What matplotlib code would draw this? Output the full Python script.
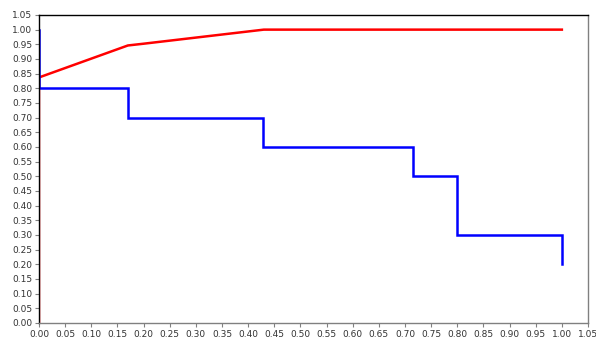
import numpy as np
import matplotlib.pyplot as plt

# red curve (cumulative) and blue step curve
red_x = [0.0, 0.0, 0.17, 0.20, 0.43, 1.0]
red_y = [0.0, 0.837, 0.946, 0.952, 1.0, 1.0]

blue_x = [0.0, 0.0, 0.17, 0.17, 0.428, 0.428, 0.715, 0.715, 0.799, 0.799, 1.0, 1.0]
blue_y = [1.0, 0.8, 0.8, 0.7, 0.7, 0.6, 0.6, 0.5, 0.5, 0.3, 0.3, 0.2]

ticks = np.round(np.arange(0, 1.0501, 0.05), 2)

fig = plt.figure(figsize=(5.96, 3.40), dpi=100)
ax = fig.add_axes([0.0654, 0.05, 0.9212, 0.906])

ax.plot(red_x, red_y, color='#ff0000', linewidth=1.8, solid_joinstyle='miter')
ax.plot(blue_x, blue_y, color='#0000ff', linewidth=1.8, solid_joinstyle='miter')

ax.set_xlim(0, 1.05)
ax.set_ylim(0, 1.05)
ax.set_xticks(ticks)
ax.set_yticks(ticks)
ax.set_xticklabels(['%.2f' % t for t in ticks])
ax.set_yticklabels(['%.2f' % t for t in ticks])
ax.tick_params(axis='both', labelsize=6.5, length=3, width=0.8, color='#808080',
               labelcolor='#333333', pad=2)

for side in ['left', 'top']:
    ax.spines[side].set_color('#000000')
for side in ['right', 'bottom']:
    ax.spines[side].set_color('#808080')
for s in ax.spines.values():
    s.set_linewidth(1.0)

plt.savefig('out.png', dpi=100)
